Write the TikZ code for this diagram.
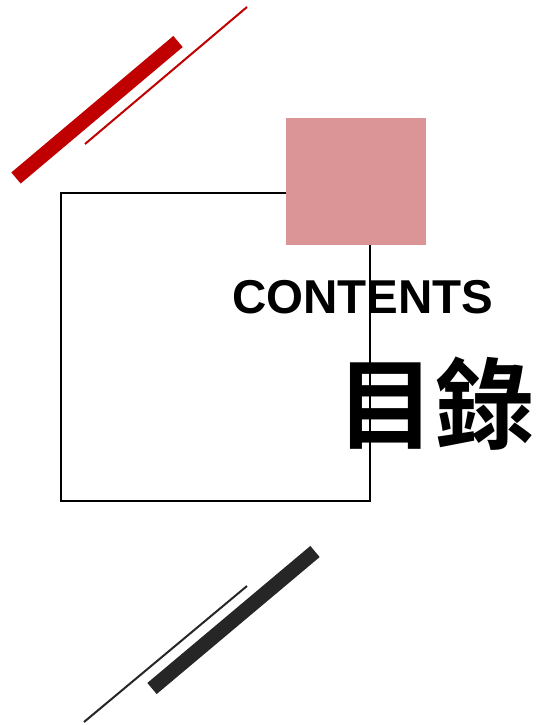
\documentclass[tikz,border=0pt]{standalone}
\usepackage{fontspec}
\setmainfont{Liberation Sans}
\newfontfamily\cjk{Noto Sans CJK TC}[UprightFont=* Bold]
\definecolor{barred}{RGB}{192,0,0}
\definecolor{pinkbox}{RGB}{219,149,150}
\definecolor{bardark}{RGB}{38,38,38}
\begin{document}
\begin{tikzpicture}[x=1pt,y=-1pt,
  thickbar/.style={line width=14.5pt},
  thinbar/.style={line width=2pt},
  frame/.style={draw=black,line width=2pt},
  title/.style={font=\bfseries\fontsize{47.5}{50}\selectfont,inner sep=0pt,anchor=base west},
  cjktitle/.style={font=\cjk\fontsize{99}{100}\selectfont,inner sep=0pt,anchor=center}]
\useasboundingbox (0,0) rectangle (539,725);
% red bars
\draw[thickbar,barred] (16,178) -- (178,41.5);
\draw[thinbar,barred] (85,144) -- (247,7);
% frame
\draw[frame] (61,193) rectangle (370,501);
% pink square
\fill[pinkbox] (286,118) rectangle (426,245);
% texts
\node[title] (contents) at (232,313) {CONTENTS};
\node[cjktitle] (mulu) at (435,404) {目錄};
% dark bars
\draw[thickbar,bardark] (152,688.5) -- (315,551.5);
\draw[thinbar,bardark] (84,722) -- (247,586);
\end{tikzpicture}
\end{document}
